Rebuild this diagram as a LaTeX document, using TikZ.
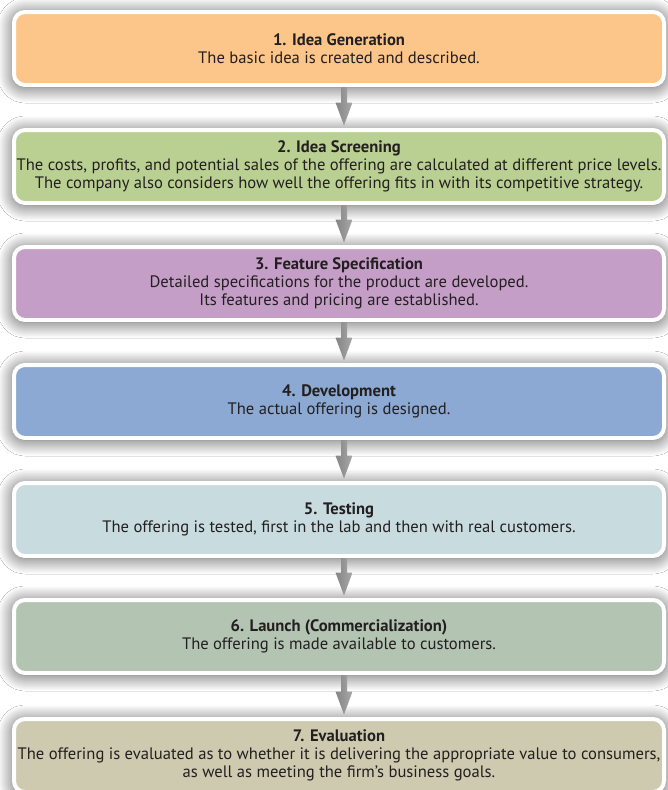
\documentclass[tikz,border=0pt]{standalone}
\usepackage{fontspec}
\setmainfont{PT Sans}
\usetikzlibrary{shadows.blur,calc}
\definecolor{c1}{HTML}{FCC68A}
\definecolor{c2}{HTML}{BAD092}
\definecolor{c3}{HTML}{C59EC8}
\definecolor{c4}{HTML}{8BA9D2}
\definecolor{c5}{HTML}{C8DCE0}
\definecolor{c6}{HTML}{B3C4B3}
\definecolor{c7}{HTML}{CDCAB0}
\definecolor{txt}{HTML}{231F20}
\begin{document}
\begin{tikzpicture}[x=1pt,y=-1pt,
  stage/.style={draw=white, line width=4pt, rounded corners=11pt,
    minimum width=650pt, minimum height=73pt, align=center, text=txt,
    font=\fontsize{16.6}{17.8}\selectfont, inner sep=0pt,
    blur shadow={shadow xshift=0pt, shadow yshift=-2pt,
      shadow blur radius=16pt, shadow blur steps=24, shadow opacity=70}},
  flow/.style={left color=black!48, middle color=black!18, right color=black!34, draw=none}]
\useasboundingbox (0,0) rectangle (668,790);
\clip (0,0) rectangle (668,790);
\fill[white] (0,0) rectangle (668,790);
\node[stage, fill=c1] (b1) at (339,48.5) {\textbf{1. Idea Generation}\\The basic idea is created and described.};
\node[stage, fill=c2] (b2) at (339,166.5) {\textbf{2. Idea Screening}\\The costs, profits, and potential sales of the offering are calculated at different price levels.\\The company also considers how well the offering fits in with its competitive strategy.};
\node[stage, fill=c3] (b3) at (339,283.5) {\textbf{3. Feature Specification}\\Detailed specifications for the product are developed.\\Its features and pricing are established.};
\node[stage, fill=c4] (b4) at (339,401.5) {\textbf{4. Development}\\The actual offering is designed.};
\node[stage, fill=c5] (b5) at (339,519.5) {\textbf{5. Testing}\\The offering is tested, first in the lab and then with real customers.};
\node[stage, fill=c6] (b6) at (339,636.5) {\textbf{6. Launch (Commercialization)}\\The offering is made available to customers.};
\node[stage, fill=c7] (b7) at (339,755.5) {\textbf{7. Evaluation}\\The offering is evaluated as to whether it is delivering the appropriate value to consumers,\\as well as meeting the firm’s business goals.};
\foreach \a/\b in {b1/b2,b2/b3,b3/b4,b4/b5,b5/b6,b6/b7}{
  \path[flow] ($(\a.south)+(2,0)$) -- ($(\b.north)+(2,-25.5)$) -- ($(\b.north)+(-3.5,-25.5)$)
    -- ($(\b.north)+(5,-2.5)$) -- ($(\b.north)+(13.5,-25.5)$) -- ($(\b.north)+(8,-25.5)$)
    -- ($(\a.south)+(8,0)$) -- cycle;
}
\end{tikzpicture}
\end{document}
